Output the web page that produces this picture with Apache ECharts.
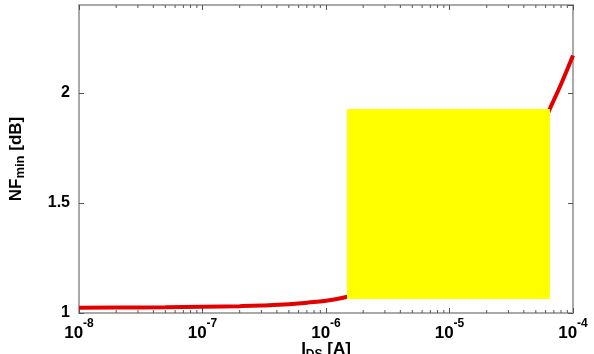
<!DOCTYPE html>
<html>
<head>
<meta charset="utf-8">
<script src="https://cdn.jsdelivr.net/npm/echarts@6/dist/echarts.min.js"></script>
<style>
html,body{margin:0;padding:0;background:#fff;}
#chart{width:594px;height:354px;}
</style>
</head>
<body>
<div id="chart"></div>
<script>
// Drain current I [A]
const currents = [1e-8, 2e-8, 5e-8, 1e-7, 2e-7, 3e-7, 5e-7, 7e-7, 1e-6, 1.5e-6, 2e-6, 3e-6, 5e-6, 1e-5, 2e-5, 3e-5, 5e-5, 6.4e-5, 8e-5, 1e-4];
// Minimum noise figure [dB]
const nfmin = [1.024, 1.025, 1.026, 1.028, 1.031, 1.034, 1.040, 1.047, 1.056, 1.074, 1.09, 1.12, 1.17, 1.28, 1.45, 1.58, 1.78, 1.92, 2.04, 2.17];
// y tick values
const yTicks = [1, 1.5, 2];
// minor tick positions (log decades)
const minorTicks = [];
for (let n = -8; n <= -5; n++) for (let k = 2; k <= 9; k++) minorTicks.push(k * Math.pow(10, n));

const FONT = '"Liberation Sans", Arial, sans-serif';
const frame = {show: true, lineStyle: {color: '#a9a9a9', width: 2}};
const chart = echarts.init(document.getElementById('chart'));
chart.setOption({
  animation: false,
  backgroundColor: '#fff',
  grid: {left: 79, right: 21, top: 5, bottom: 41, containLabel: false, outerBoundsMode: 'none'},
  xAxis: [{
    type: 'log', min: 1e-8, max: 1e-4, logBase: 10, position: 'bottom',
    axisLine: frame,
    axisTick: {show: true, inside: true, length: 5, lineStyle: {color: '#555', width: 1}},
    splitLine: {show: false},
    axisLabel: {
      margin: 5,
      formatter: v => '{b|10}{s|' + Math.round(Math.log10(v)) + '}',
      rich: {
        b: {fontFamily: FONT, fontWeight: 'bold', fontSize: 17, color: '#000', lineHeight: 24, verticalAlign: 'bottom'},
        s: {fontFamily: FONT, fontWeight: 'bold', fontSize: 12, color: '#000', lineHeight: 24, verticalAlign: 'top', padding: [0, 0, 10, 0]}
      }
    },
    name: '{b|I}{s|DS}{b| [A]}', nameLocation: 'middle', nameGap: 26, nameMoveOverlap: false,
    nameTextStyle: {
      verticalAlign: 'top',
      rich: {
        b: {fontFamily: FONT, fontWeight: 'bold', fontSize: 17, color: '#000', lineHeight: 20},
        s: {fontFamily: FONT, fontWeight: 'bold', fontSize: 12, color: '#000', lineHeight: 20, padding: [12, 0, 0, 0]}
      }
    }
  }, {
    type: 'log', min: 1e-8, max: 1e-4, logBase: 10, position: 'top',
    axisLine: frame,
    axisTick: {show: true, inside: true, length: 5, lineStyle: {color: '#555', width: 1}},
    axisLabel: {show: false}, splitLine: {show: false}
  }],
  yAxis: [{
    type: 'value', min: 1, max: 2.4, interval: 0.5, position: 'left',
    axisLine: frame,
    axisTick: {show: true, inside: true, length: 5, lineStyle: {color: '#555', width: 1}},
    splitLine: {show: false},
    axisLabel: {
      margin: 9, showMaxLabel: false,
      fontFamily: FONT, fontWeight: 'bold', fontSize: 16, color: '#000',
      formatter: v => yTicks.indexOf(v) >= 0 ? String(v) : ''
    },
    name: '{b|NF}{s|min}{b| [dB]}', nameLocation: 'middle', nameGap: 52, nameMoveOverlap: false,
    nameTextStyle: {
      rich: {
        b: {fontFamily: FONT, fontWeight: 'bold', fontSize: 17, color: '#000'},
        s: {fontFamily: FONT, fontWeight: 'bold', fontSize: 13, color: '#000', padding: [9, 0, 0, 0]}
      }
    }
  }, {
    type: 'value', min: 1, max: 2.4, interval: 0.5, position: 'right',
    axisLine: frame,
    axisTick: {show: true, inside: true, length: 5, lineStyle: {color: '#555', width: 1}},
    axisLabel: {show: false}, splitLine: {show: false}
  }],
  series: [{
    type: 'custom',
    data: minorTicks,
    silent: true,
    renderItem: (params, api) => {
      const v = api.value(0);
      const b = api.coord([v, 1]);
      const t = api.coord([v, 2.4]);
      return {type: 'group', children: [
        {type: 'line', shape: {x1: b[0], y1: b[1], x2: b[0], y2: b[1] - 3}, style: {stroke: '#555', lineWidth: 1}},
        {type: 'line', shape: {x1: t[0], y1: t[1], x2: t[0], y2: t[1] + 3}, style: {stroke: '#555', lineWidth: 1}}
      ]};
    },
    encode: {x: 0, y: 0}
  }, {
    type: 'line',
    data: currents.map((c, i) => [c, nfmin[i]]),
    smooth: true,
    showSymbol: false,
    lineStyle: {color: '#e30000', width: 4},
    z: 3
  }],
  graphic: [{
    type: 'rect', left: 347, top: 109, z: 100,
    shape: {width: 203, height: 190},
    style: {fill: '#ffff00'}
  }]
});
</script>
</body>
</html>
